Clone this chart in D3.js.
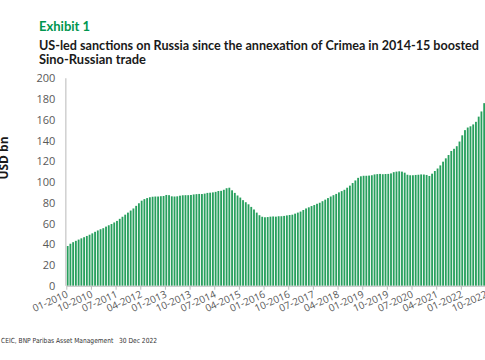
<!DOCTYPE html>
<html><head><meta charset="utf-8">
<script src="https://cdn.jsdelivr.net/npm/d3@7/dist/d3.min.js"></script>
<style>
html,body{margin:0;padding:0;background:#fff;overflow:hidden;}
svg{display:block;}
</style></head>
<body>
<svg id="c" width="485" height="360"></svg>
<script>
// Monthly values, USD bn, Jan-2010 .. Nov-2022
const v2010 = [38.3, 40.5, 42, 43.3, 44.5, 45.7, 46.8, 48, 49.2, 50.5, 52, 53.3];
const v2011 = [54.5, 55.5, 57, 58.3, 59.5, 61, 62.5, 64.5, 66.5, 68.5, 70.5, 72.5];
const v2012 = [74.5, 77, 79.5, 82, 83.5, 84.5, 85.3, 85.8, 86, 86, 86.3, 86.5];
const v2013 = [87.5, 87.3, 86.2, 86, 86.2, 86.8, 87.2, 87.3, 87.3, 87.5, 88, 88.3];
const v2014 = [88.5, 88.4, 88.8, 89.5, 89.7, 90, 90.5, 91.3, 91.5, 92.5, 94, 94.5];
const v2015 = [92, 89.5, 87, 85, 82.5, 80.5, 78.5, 76, 73.5, 70.5, 68, 66.5];
const v2016 = [66, 66.2, 66.6, 66.8, 66.6, 67, 67, 67.3, 67.8, 68.2, 68.5, 69.5];
const v2017 = [70.5, 71.5, 73, 74.5, 75.6, 76.8, 77.8, 79, 80, 81.5, 83, 84.5];
const v2018 = [86, 87.3, 88.5, 90, 91.2, 92.5, 94.5, 96.5, 99, 101.5, 104, 105.5];
const v2019 = [106, 106, 106.2, 106.5, 107.3, 107.6, 107.8, 107.5, 107.7, 107.8, 108.3, 109.5];
const v2020 = [110, 110.3, 110, 109, 107, 106.5, 106.5, 106.8, 107, 107.3, 107.2, 106.8];
const v2021 = [105.8, 108, 110.6, 113, 116, 119.6, 122.8, 126, 129.9, 132, 134.5, 139];
const v2022 = [145, 150, 152.5, 153.7, 155.5, 158, 163, 168, 176, 180, 184];
const values = [].concat(v2010, v2011, v2012, v2013, v2014, v2015, v2016, v2017, v2018, v2019, v2020, v2021, v2022);

const fmtM = d3.timeFormat("%m-%Y");
const months = d3.timeMonth.range(new Date(2010, 0, 1), new Date(2010, 0 + values.length, 1)).map(fmtM);
const data = months.map((m, i) => ({month: m, value: values[i]}));

const tickLabels = ["01-2010","10-2010","07-2011","04-2012","01-2013","10-2013","07-2014","04-2015","01-2016","10-2016","07-2017","04-2018","01-2019","10-2019","07-2020","04-2021","01-2022","10-2022"];
const yTicks = [0,20,40,60,80,100,120,140,160,180,200];

const svg = d3.select("#c");
const x0 = 66.3, step = 2.74;
const y = d3.scaleLinear().domain([0, 200]).range([285.75, 78.25]);
const x = d3.scaleBand().domain(months).range([x0, x0 + step * months.length]).paddingInner(0.33).paddingOuter(0.16);
const xi = d3.scaleLinear().domain([0, months.length]).range([x0, x0 + step * months.length]);

// bars
svg.append("g").selectAll("rect").data(data).join("rect")
  .attr("x", d => x(d.month))
  .attr("width", x.bandwidth())
  .attr("y", d => y(d.value))
  .attr("height", d => y(0) - y(d.value))
  .attr("fill", "#28a05e");

// y axis
const ya = svg.append("g").attr("transform", `translate(${x0},0)`)
  .call(d3.axisLeft(y).tickValues(yTicks).tickSize(0).tickPadding(11));
ya.select(".domain").remove();
ya.selectAll("text").attr("font-family", "'Open Sans', sans-serif").attr("font-size", 11).attr("fill", "#595959");
svg.append("line").attr("x1", x0 - 0.5).attr("x2", x0 - 0.5).attr("y1", y(200)).attr("y2", y(0))
  .attr("stroke", "#d0d0d0").attr("stroke-width", 1.5);

// x axis
const xa = svg.append("g").attr("transform", `translate(0,${y(0)})`)
  .call(d3.axisBottom(xi).tickValues(tickLabels.map(l => {
      const k = months.indexOf(l); return k >= 0 ? k : months.length; }))
    .tickFormat((d, i) => tickLabels[i]).tickSize(4).tickSizeOuter(0));
xa.select(".domain").attr("stroke", "#bfbfbf").attr("stroke-width", 1);
xa.selectAll(".tick line").attr("stroke", "#bfbfbf");
xa.selectAll("text")
  .attr("font-family", "'Open Sans', sans-serif").attr("font-size", 10).attr("fill", "#595959")
  .attr("text-anchor", "end").attr("dy", null).attr("y", 0)
  .attr("transform", "translate(2,11) rotate(-24)");

// titles
const tFont = "Lato, 'Open Sans', sans-serif";
svg.append("text").attr("x", 39).attr("y", 31).text("Exhibit 1")
  .attr("font-family", tFont).attr("font-weight", "bold")
  .attr("font-size", 13).attr("fill", "#00964f");
svg.append("text").attr("x", 39).attr("y", 50)
  .text("US-led sanctions on Russia since the annexation of Crimea in 2014-15 boosted")
  .attr("font-family", tFont).attr("font-weight", "bold")
  .attr("font-size", 12.5).attr("fill", "#1a1a1a")
  .attr("textLength", 440).attr("lengthAdjust", "spacingAndGlyphs");
svg.append("text").attr("x", 39).attr("y", 63.5).text("Sino-Russian trade")
  .attr("font-family", tFont).attr("font-weight", "bold")
  .attr("font-size", 12.5).attr("fill", "#1a1a1a")
  .attr("textLength", 107).attr("lengthAdjust", "spacingAndGlyphs");

// y label
svg.append("text").attr("transform", "translate(7.5,158) rotate(-90)").attr("text-anchor", "middle")
  .text("USD bn").attr("font-family", "'Open Sans', sans-serif").attr("font-weight", "bold")
  .attr("font-size", 12).attr("fill", "#1a1a1a");

// source
svg.append("text").attr("x", 1).attr("y", 343).attr("xml:space", "preserve").style("white-space", "pre")
  .text("CEIC, BNP Paribas Asset Management   30 Dec 2022")
  .attr("font-family", "'DejaVu Sans Condensed', 'Open Sans', sans-serif")
  .attr("font-size", 7).attr("fill", "#333")
  .attr("textLength", 156).attr("lengthAdjust", "spacingAndGlyphs");
</script>
</body></html>
